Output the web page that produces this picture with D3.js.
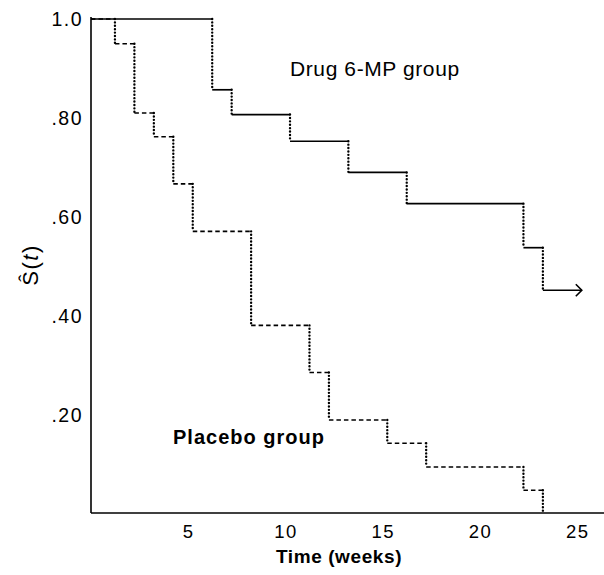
<!DOCTYPE html>
<html><head><meta charset="utf-8">
<script src="https://cdn.jsdelivr.net/npm/d3@7"></script>
<style>body{margin:0;background:#fff}svg{display:block}text{font-family:"Liberation Sans",Arial,sans-serif;fill:#000}</style>
</head><body><svg id="c" width="604" height="575"></svg>
<script>
const drugTimes = [0, 6, 7, 10, 13, 16, 22, 23];
const drugS = [1.0, 0.857, 0.807, 0.753, 0.690, 0.627, 0.538, 0.452];
const drugEnd = 25;
const placeboTimes = [0, 1, 2, 3, 4, 5, 8, 11, 12, 15, 17, 22, 23];
const placeboS = [1.0, 0.95, 0.81, 0.762, 0.667, 0.571, 0.381, 0.286, 0.19, 0.143, 0.095, 0.048, 0.0];
const xTicks = [5, 10, 15, 20, 25];
const yTicks = [0.2, 0.4, 0.6, 0.8, 1.0];
const yTickLabels = [".20", ".40", ".60", ".80", "1.0"];

const svg = d3.select("#c");
const x = d3.scaleLinear().domain([0, 25]).range([95.5, 581.8]);
const y = d3.scaleLinear().domain([0, 1]).range([514, 19]);
const axX = 91, axY = 513;

// axes
svg.append("line").attr("x1", axX).attr("x2", axX).attr("y1", 17).attr("y2", axY).attr("stroke", "#000").attr("stroke-width", 1.6);
svg.append("line").attr("x1", axX).attr("x2", 604).attr("y1", axY).attr("y2", axY).attr("stroke", "#000").attr("stroke-width", 1.6);
svg.append("line").attr("x1", axX).attr("x2", axX + 4).attr("y1", y(1)).attr("y2", y(1)).attr("stroke", "#000").attr("stroke-width", 1);

svg.selectAll(".yt").data(yTicks).join("text")
  .attr("x", 83).attr("y", d => y(d) + 6.5).attr("text-anchor", "end")
  .attr("font-size", 19.5).attr("letter-spacing", 1.5).text((d, i) => yTickLabels[i]);
svg.selectAll(".xt").data(xTicks).join("text")
  .attr("x", d => x(d) - 4).attr("y", 538).attr("text-anchor", "middle")
  .attr("font-size", 18.5).attr("letter-spacing", 1.5).text(d => d);

svg.append("text").attr("x", 339).attr("y", 563).attr("text-anchor", "middle")
  .attr("font-size", 19).attr("font-weight", "bold").attr("letter-spacing", 0.6).text("Time (weeks)");

const yl = svg.append("text").attr("transform", "translate(38,265) rotate(-90)")
  .attr("text-anchor", "middle").attr("font-size", 22).attr("letter-spacing", 1.5);
yl.append("tspan").text("Ŝ(");
yl.append("tspan").attr("font-style", "italic").text("t");
yl.append("tspan").text(")");

// step drawing
function steps(times, vals, end, hStyle) {
  const g = svg.append("g");
  for (let i = 0; i < times.length; i++) {
    const t0 = times[i];
    const t1 = i < times.length - 1 ? times[i + 1] : end;
    if (t1 !== undefined && t1 > t0) {
      const l = g.append("line").attr("x1", i === 0 ? axX : x(t0)).attr("x2", x(t1))
        .attr("y1", y(vals[i])).attr("y2", y(vals[i])).attr("stroke", "#000");
      hStyle(l);
    }
    if (i > 0) {
      g.append("line").attr("x1", x(t0)).attr("x2", x(t0))
        .attr("y1", y(vals[i - 1])).attr("y2", y(vals[i]))
        .attr("stroke", "#000").attr("stroke-width", 2.4)
        .attr("stroke-linecap", "round").attr("stroke-dasharray", "0,3.4");
    }
  }
  return g;
}

steps(placeboTimes, placeboS, undefined, l => l.attr("stroke-width", 1.6).attr("stroke-dasharray", "4.5,3"));
steps(drugTimes, drugS, drugEnd, l => l.attr("stroke-width", 1.7));

// arrow at end of drug curve
const ay = y(drugS[drugS.length - 1]), ax = x(drugEnd);
svg.append("path").attr("d", `M${ax - 6},${ay - 6} L${ax},${ay} L${ax - 6},${ay + 6}`)
  .attr("fill", "none").attr("stroke", "#000").attr("stroke-width", 1.6);

svg.append("text").attr("x", 290).attr("y", 76).attr("font-size", 21).attr("letter-spacing", 0.6).text("Drug 6-MP group");
svg.append("text").attr("x", 173).attr("y", 444).attr("font-size", 20).attr("font-weight", "bold").attr("letter-spacing", 1.0).text("Placebo group");
</script></body></html>
